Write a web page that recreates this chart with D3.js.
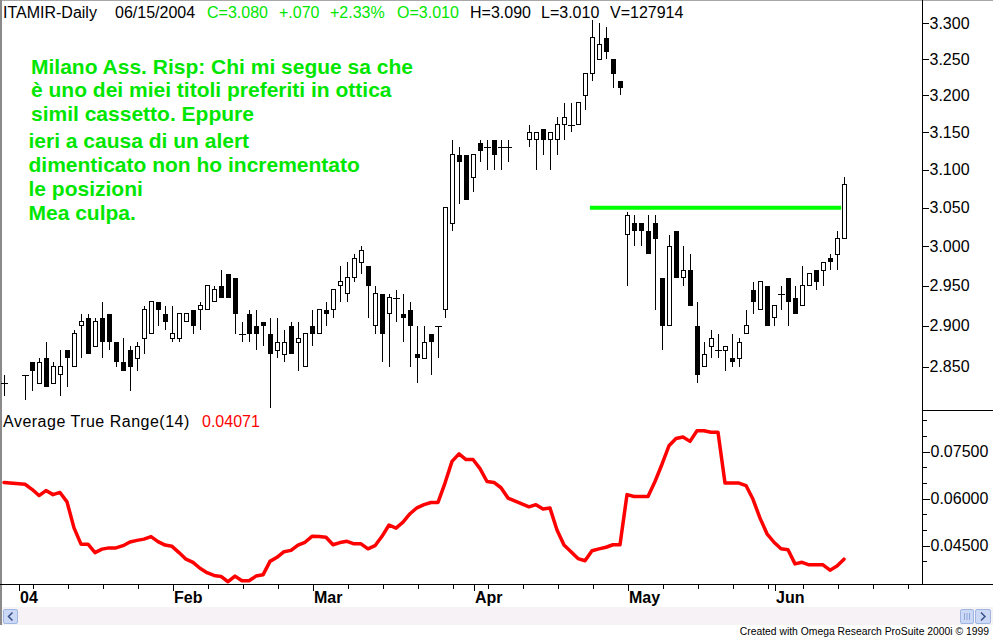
<!DOCTYPE html>
<html><head><meta charset="utf-8">
<script src="https://cdn.jsdelivr.net/npm/d3@7"></script>
<style>
html,body{margin:0;padding:0;background:#fff;overflow:hidden;}
svg{display:block;font-family:Arial,"Liberation Sans",sans-serif;}
</style></head><body>
<svg id="c" width="993" height="640"></svg>
<script>
// ---- DATA (one slot per weekday from 2003-12-30; null = no trading) ----
const openP  = [2.83,null,null,2.84,2.855,2.83,2.86,2.83,2.84,2.87,2.85,2.90,2.91,2.875,2.91,2.915,2.88,2.855,2.87,2.86,
  2.885,2.89,2.93,2.915,2.885,2.885,2.905,2.92,2.92,2.92,2.93,2.95,2.965,2.96,2.89,2.915,2.90,2.905,2.89,2.87,
  2.865,2.90,2.88,2.85,2.90,2.89,2.92,2.92,2.95,2.94,2.96,2.98,2.975,2.90,2.94,2.915,2.935,2.915,2.92,2.865,
  2.86,2.89,2.90,2.92,3.03,3.12,3.12,3.09,3.135,3.13,3.14,3.13,3.13,null,null,3.14,3.14,3.155,3.14,3.14,
  3.16,3.16,3.16,3.20,3.23,3.25,3.28,3.25,3.22,3.015,3.03,3.03,3.02,3.03,2.96,2.90,3.02,2.96,2.97,2.90,
  2.85,2.875,2.87,2.87,2.86,2.86,2.89,2.945,2.92,2.95,2.91,2.94,2.96,2.935,2.925,2.95,2.97,2.97,2.985,2.99,3.01];
const highP  = [2.84,null,null,2.84,2.855,2.86,2.88,2.855,2.87,2.87,2.895,2.915,2.915,2.91,2.93,2.915,2.88,2.885,2.875,2.88,
  2.925,2.93,2.93,2.925,2.925,2.915,2.915,2.92,2.93,2.95,2.95,2.97,2.965,2.96,2.905,2.92,2.92,2.905,2.91,2.91,
  2.895,2.905,2.905,2.89,2.92,2.92,2.93,2.945,2.975,2.98,2.99,3.00,2.975,2.95,2.94,2.94,2.945,2.94,2.93,2.90,
  2.90,2.89,2.90,3.05,3.14,3.13,3.12,3.12,3.14,3.14,3.14,3.14,3.14,null,null,3.16,3.15,3.155,3.15,3.17,
  3.19,3.19,3.19,3.23,3.305,3.30,3.295,3.25,3.22,3.045,3.04,3.03,3.04,3.04,2.96,3.015,3.02,3.00,2.99,2.93,
  2.88,2.895,2.89,2.875,2.89,2.885,2.92,2.955,2.955,2.95,2.925,2.95,2.96,2.95,2.975,2.965,2.97,2.98,2.99,3.02,3.09];
const lowP   = [2.815,null,null,2.81,2.82,2.83,2.825,2.83,2.815,2.825,2.85,2.86,2.865,2.875,2.86,2.87,2.85,2.845,2.82,2.845,
  2.865,2.89,2.90,2.895,2.88,2.88,2.905,2.89,2.895,2.92,2.93,2.935,2.935,2.89,2.88,2.88,2.87,2.875,2.80,2.86,
  2.855,2.865,2.845,2.85,2.875,2.89,2.90,2.91,2.93,2.93,2.955,2.965,2.91,2.89,2.855,2.85,2.905,2.88,2.85,2.83,
  2.86,2.84,2.86,2.91,3.02,3.055,3.06,3.07,3.11,3.10,3.10,3.10,3.11,null,null,3.13,3.10,3.12,3.10,3.12,
  3.14,3.15,3.16,3.18,3.22,3.25,3.25,3.21,3.20,2.95,3.00,3.00,2.99,2.92,2.87,2.90,2.96,2.95,2.925,2.83,
  2.85,2.86,2.86,2.845,2.85,2.85,2.89,2.915,2.92,2.90,2.90,2.92,2.90,2.915,2.925,2.95,2.945,2.95,2.97,2.97,3.01];
const closeP = [2.83,null,null,2.84,2.845,2.855,2.825,2.85,2.85,2.86,2.89,2.905,2.865,2.905,2.88,2.88,2.855,2.845,2.85,2.875,
  2.92,2.93,2.92,2.905,2.89,2.915,2.915,2.90,2.925,2.95,2.945,2.935,2.935,2.915,2.89,2.89,2.89,2.90,2.865,2.88,
  2.88,2.865,2.885,2.89,2.89,2.92,2.915,2.945,2.955,2.96,2.985,2.995,2.95,2.94,2.89,2.935,2.935,2.91,2.90,2.86,
  2.88,2.88,2.90,3.05,3.12,3.11,3.06,3.12,3.125,3.13,3.12,3.13,3.13,null,null,3.15,3.15,3.14,3.15,3.16,
  3.17,3.16,3.19,3.23,3.28,3.27,3.26,3.23,3.21,3.04,3.02,3.02,2.99,3.01,2.90,3.00,2.96,2.97,2.925,2.84,
  2.865,2.885,2.87,2.875,2.855,2.88,2.90,2.93,2.955,2.90,2.925,2.94,2.93,2.915,2.95,2.965,2.955,2.98,2.98,3.01,3.08];
const atr14  = [0.0652,null,null,0.0646,0.0630,0.0610,0.0626,0.0613,0.0620,0.0590,0.0507,0.0455,0.0455,0.0428,0.0439,0.0443,0.0443,0.0450,0.0462,0.0467,
  0.0471,0.0479,0.0463,0.0452,0.0448,0.0428,0.0407,0.0397,0.0378,0.0364,0.0355,0.0352,0.0335,0.0353,0.0338,0.0338,0.0353,0.0357,0.0400,0.0413,
  0.0431,0.0435,0.0452,0.0461,0.0480,0.0479,0.0477,0.0453,0.0460,0.0464,0.0456,0.0456,0.0440,0.0450,0.0480,0.0516,0.0506,0.0525,0.0552,0.0571,
  0.0581,0.0588,0.0588,0.0650,0.0719,0.0743,0.0725,0.0725,0.0696,0.0655,0.0652,0.0635,0.0602,null,null,0.0574,0.0581,0.0567,0.0570,0.0500,
  0.0452,0.0431,0.0409,0.0402,0.0434,0.0440,0.0445,0.0453,0.0453,0.0613,0.0607,0.0607,0.0607,0.0655,0.0710,0.0769,0.0792,0.0797,0.0783,0.0817,
  0.0817,0.0812,0.0812,0.0650,0.0650,0.0650,0.0642,0.0598,0.0538,0.0488,0.0461,0.0440,0.0437,0.0392,0.0397,0.0389,0.0389,0.0389,0.0372,0.0385,0.0407];
const priceTicks = [2.85,2.90,2.95,3.00,3.05,3.10,3.15,3.20,3.25,3.30];
const atrLabelTicks = [0.045,0.060,0.075];
const atrMinorTicks = [0.040,0.050,0.055,0.065,0.070,0.080,0.085];
const monthNames = ["04","Feb","Mar","Apr","May","Jun"];
const levelLine = {price:3.05, fromSlot:83.7, toSlot:119.6};
const headerItems = [
  {t:"ITAMIR-Daily",x:3,c:"#000"},{t:"06/15/2004",x:115,c:"#000"},{t:"C=3.080",x:207,c:"#00e600"},
  {t:"+.070",x:279,c:"#00e600"},{t:"+2.33%",x:330,c:"#00e600"},{t:"O=3.010",x:397,c:"#00e600"},
  {t:"H=3.090",x:470,c:"#000"},{t:"L=3.010",x:541,c:"#000"},{t:"V=127914",x:610,c:"#000"}];
const noteLines = [
  {t:"Milano Ass. Risp: Chi mi segue sa che",x:31,y:73.5},
  {t:"è uno dei miei titoli preferiti in ottica",x:31,y:97},
  {t:"simil cassetto. Eppure",x:31,y:121},
  {t:"ieri a causa di un alert",x:28.5,y:148},
  {t:"dimenticato non ho incrementato",x:28.5,y:171.5},
  {t:"le posizioni",x:28.5,y:196},
  {t:"Mea culpa.",x:28.5,y:220}];

// ---- calendar of weekday slots ----
const slotDates = [];
for (let d = new Date(2003,11,30); slotDates.length < 131; d.setDate(d.getDate()+1)) {
  const w = d.getDay(); if (w>0 && w<6) slotDates.push(new Date(d));
}
const nBars = closeP.length;

const svg = d3.select("#c");
const W = 993, axisX = 922, bottomY = 584.5;

const x = d3.scaleLinear().domain([0,120]).range([4,844]);
const yP = d3.scaleLog().domain([2.85,3.30]).range([366.6,23.3]);
const yA = d3.scaleLinear().domain([0.045,0.075]).range([545.7,451.7]);

// frame
svg.append("rect").attr("x",0).attr("y",0).attr("width",W).attr("height",1).attr("fill","#a8a8a8");
svg.append("rect").attr("x",0).attr("y",0).attr("width",2).attr("height",625).attr("fill","#8a8a8a");

// candles
const bars = d3.range(nBars).filter(i => closeP[i] != null).map(i => ({i, o:openP[i], h:highP[i], l:lowP[i], c:closeP[i]}));
const g = svg.append("g").attr("shape-rendering","crispEdges");
g.selectAll("line.wick").data(bars).join("line").attr("class","wick")
  .attr("x1",d=>x(d.i)+0.5).attr("x2",d=>x(d.i)+0.5)
  .attr("y1",d=>yP(d.h)).attr("y2",d=>yP(d.l)).attr("stroke","#000").attr("stroke-width",1);
const bodies = bars.filter(d => Math.abs(yP(d.o)-yP(d.c)) >= 1.5);
const dojis = bars.filter(d => Math.abs(yP(d.o)-yP(d.c)) < 1.5);
g.selectAll("rect.black").data(bodies.filter(d=>d.c<d.o)).join("rect").attr("class","black")
  .attr("x",d=>x(d.i)-2).attr("width",5)
  .attr("y",d=>yP(d.o)).attr("height",d=>yP(d.c)-yP(d.o)).attr("fill","#000");
g.selectAll("rect.white").data(bodies.filter(d=>d.c>d.o)).join("rect").attr("class","white")
  .attr("x",d=>x(d.i)-1.5).attr("width",4)
  .attr("y",d=>yP(d.c)).attr("height",d=>yP(d.o)-yP(d.c)).attr("fill","#fff").attr("stroke","#000").attr("stroke-width",1);
g.selectAll("line.doji").data(dojis).join("line").attr("class","doji")
  .attr("x1",d=>x(d.i)-3).attr("x2",d=>x(d.i)+4)
  .attr("y1",d=>Math.round(yP(d.c))+0.5).attr("y2",d=>Math.round(yP(d.c))+0.5).attr("stroke","#000").attr("stroke-width",1);

// level line
svg.append("line").attr("x1",x(levelLine.fromSlot)).attr("x2",x(levelLine.toSlot))
  .attr("y1",yP(levelLine.price)).attr("y2",yP(levelLine.price))
  .attr("stroke","#00ff00").attr("stroke-width",4);

// ATR line
const atrPts = d3.range(nBars).filter(i => atr14[i] != null).map(i => [x(i), yA(atr14[i])]);
svg.append("path").attr("d", d3.line()(atrPts)).attr("fill","none")
  .attr("stroke","#ff0000").attr("stroke-width",3.5).attr("stroke-linejoin","round").attr("stroke-linecap","round");

// right axes
svg.append("line").attr("x1",axisX+0.5).attr("x2",axisX+0.5).attr("y1",0).attr("y2",bottomY).attr("stroke","#000").attr("shape-rendering","crispEdges");
svg.append("line").attr("x1",axisX).attr("x2",W).attr("y1",410.5).attr("y2",410.5).attr("stroke","#000").attr("shape-rendering","crispEdges");
const styleAxis = sel => { sel.select(".domain").remove(); sel.selectAll("text").attr("font-size","16px").attr("fill","#000").attr("font-family","Arial, 'Liberation Sans', sans-serif"); sel.selectAll("line").attr("shape-rendering","crispEdges"); };
svg.append("g").attr("transform",`translate(${axisX+0.5},0)`)
  .call(d3.axisRight(yP).tickValues(priceTicks).tickSize(6).tickPadding(1).tickFormat(d3.format(".3f"))).call(styleAxis);
svg.append("g").attr("transform",`translate(${axisX+0.5},0)`)
  .call(d3.axisRight(yA).tickValues(atrLabelTicks).tickSize(7).tickPadding(1).tickFormat(d3.format(".5f"))).call(styleAxis);
svg.append("g").attr("transform",`translate(${axisX+0.5},0)`)
  .call(d3.axisRight(yA).tickValues(atrMinorTicks).tickSize(4).tickFormat("")).call(styleAxis);

// bottom axis
svg.append("line").attr("x1",0).attr("x2",W).attr("y1",bottomY).attr("y2",bottomY).attr("stroke","#000").attr("shape-rendering","crispEdges");
const mondays = d3.range(slotDates.length).filter(i => slotDates[i].getDay()===1 && x(i) < axisX);
const monthStarts = d3.range(1, slotDates.length).filter(i => slotDates[i].getMonth() !== slotDates[i-1].getMonth() && x(i) < axisX);
const xTickScale = d3.scaleLinear().domain(x.domain()).range(x.range().map(v=>v+0.5));
svg.append("g").attr("transform",`translate(0,${bottomY})`)
  .call(d3.axisBottom(xTickScale).tickValues(mondays).tickSize(4).tickFormat("")).call(styleAxis);
const mAxis = svg.append("g").attr("transform",`translate(0,${bottomY})`)
  .call(d3.axisBottom(xTickScale).tickValues(monthStarts).tickSize(6).tickFormat((d,k)=>monthNames[k]));
mAxis.call(styleAxis);
mAxis.selectAll("text").attr("text-anchor","start").attr("x",1).attr("y",18.5).attr("dy",0).attr("font-weight","bold");

// header
svg.append("g").selectAll("text").data(headerItems).join("text")
  .attr("x",d=>d.x).attr("y",18).attr("font-size","16px").attr("fill",d=>d.c).text(d=>d.t);

// ATR title
svg.append("text").attr("x",3).attr("y",427).attr("font-size","16px").attr("letter-spacing","0.5px").attr("fill","#000").text("Average True Range(14)");
svg.append("text").attr("x",202).attr("y",427).attr("font-size","16px").attr("fill","#ff0000").text(d3.format(".5f")(atr14[nBars-1]+0.00001));

// annotation
svg.append("g").selectAll("text").data(noteLines).join("text")
  .attr("x",d=>d.x).attr("y",d=>d.y).attr("font-size","21px").attr("font-weight","bold").attr("fill","#00e600").text(d=>d.t);

// scrollbar
const sb = svg.append("g");
sb.append("rect").attr("x",2).attr("y",607).attr("width",W-2).attr("height",18).attr("fill","#f6f2f6");
const btn = (bx,bw) => sb.append("rect").attr("x",bx).attr("y",609.5).attr("width",bw).attr("height",14).attr("rx",1.5)
  .attr("fill","#cbd9f6").attr("stroke","#9fb6e3").attr("stroke-width",1);
btn(3.5,14); btn(960.5,13); btn(975.5,15);
sb.append("path").attr("d","M12.5,612.5 L8.5,616.5 L12.5,620.5").attr("fill","none").attr("stroke","#3a4f8a").attr("stroke-width",1.5);
sb.append("path").attr("d","M981,612.5 L985,616.5 L981,620.5").attr("fill","none").attr("stroke","#3a4f8a").attr("stroke-width",1.5);
[964.5,967,969.5].forEach(v => sb.append("line").attr("x1",v).attr("x2",v).attr("y1",613).attr("y2",620).attr("stroke","#8fa6d6"));

// footer (condensed by a horizontal scale)
const foot = svg.append("text").attr("transform","translate(989,635) scale(0.9,1)")
  .attr("text-anchor","end").attr("font-size","11.5px").attr("fill","#000")
  .text("Created with Omega Research ProSuite 2000i © 1999");
</script>
</body></html>
